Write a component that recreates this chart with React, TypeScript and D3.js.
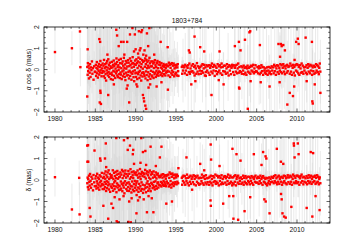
import React, { useEffect, useRef } from "react";
import * as d3 from "d3";

// Source position time series, 1803+784: RA (α cos δ) and Dec offsets in mas

const sourceName = "1803+784";
const xTickYears = [1980, 1985, 1990, 1995, 2000, 2005, 2010];
const yTickValues = [-2, -1, 0, 1, 2];

// session epochs: year, then fraction of year in hundredths (one line per year)
const sessionEpochs = `
1984 01 05 08 12 17 21 26 30 35 41 47 52 58 64 71 78 86 93
1985 02 06 10 14 19 23 27 31 36 40 45 49 54 58 63 67 72 77 81 86 91 96
1986 01 05 08 12 16 19 23 27 31 34 38 42 46 50 53 57 61 65 69 72 76 80 84 88 92 96
1987 02 05 09 13 17 20 24 28 32 35 39 43 47 51 54 58 62 66 70 73 77 81 85 89 93 97
1988 01 04 08 12 16 20 23 27 31 35 39 42 46 50 54 58 61 65 69 73 77 81 84 88 92 96
1989 02 06 10 13 17 21 25 29 32 36 40 44 48 51 55 59 63 67 70 74 78 82 86 89 93 97
1990 01 05 09 12 16 20 24 28 31 35 39 43 47 50 54 58 62 66 69 73 77 81 85 88 92 96
1991 03 07 10 14 18 22 26 29 33 37 41 45 48 52 56 60 64 67 71 75 79 83 86 90 94 98
1992 02 06 10 14 18 22 26 30 34 38 42 46 50 54 58 62 66 70 74 78 82 86 90 95
1993 01 05 10 14 19 23 28 32 37 41 46 50 55 59 64 68 73 77 82 86 91 95
1994 02 06 12 17 21 27 33 37 42 48 52 56 63 67 71 78 82 86 92 97
1995 02 07 12 17 22 27 72 77 82 87 93
1996 02 09 15 23 30 37 44 51 59 66 72 80 87 94
1997 04 10 18 25 31 38 46 52 60 67 73 81 88 95
1998 01 08 16 22 29 37 43 50 58 65 71 79 86 93
1999 03 11 17 24 32 38 45 53 59 66 74 80 88 94
2000 02 09 16 23 31 37 44 52 58 65 73 79 86 95
2001 05 11 18 26 32 39 46 53 61 67 74 82 88 96
2002 01 08 15 23 29 36 43 51 57 64 71 78 86 92
2003 04 10 17 24 32 39 45 52 60 66 73 81 87 94
2004 02 09 16 22 30 37 44 51 58 65 72 79 86 93
2005 03 10 18 25 31 38 46 52 59 67 73 80 88 95
2006 02 08 15 22 29 36 44 50 57 64 72 79 86 93
2007 04 11 17 24 32 38 45 53 59 66 74 81 87 94
2008 01 09 15 23 30 37 43 51 58 64 72 79 85 93
2009 03 10 17 25 31 38 46 52 60 67 73 80 88 95
2010 02 08 16 22 29 36 44 51 57 65 71 79 86 92
2011 04 11 18 24 32 39 45 53 60 66 74 81 87 94
2012 02 09 15 23 30 37 43 50 57 63 70 76 82 89
`;

// α cos δ offsets, hundredths of mas (same order as sessionEpochs)
const raOffsets = `
12 -25 30 -8 18 -42 5 -15 25 -35 10 -3 38 -20 6 -48 15 -10
-12 22 -30 8 35 -18 2 -38 15 -6 26 -24 12 -14 40 -4 20 -32 5 -16 28 -8
18 -32 45 -10 6 -40 25 -22 12 -52 30 -4 40 -16 9 -28 48 -12 22 -35 2 32 -20 15 -45 8
-15 36 -26 10 -48 22 -6 42 -30 16 -10 28 -40 4 25 -18 52 -8 35 -28 12 -36 20 -2 45 -22
10 -40 30 -14 50 -24 6 -45 28 -9 38 -32 18 -4 55 -20 8 -35 24 -50 40 -15 4 32 -28 14
-26 44 -11 32 -42 16 -6 52 -30 22 -14 40 -48 9 28 -20 58 -9 30 -36 13 -55 25 -4 42 -18
22 -35 48 -15 30 -45 7 38 -22 56 -11 18 -40 33 -6 50 -28 11 -52 25 -16 44 -33 4 36 -13
-20 40 -30 13 52 -42 25 -9 45 -26 6 35 -50 18 -13 42 -33 9 55 -22 29 -44 15 -6 38 -28
15 -33 38 -11 28 -40 7 33 -22 44 -15 20 -35 11 -6 30 -26 40 -16 6 -29 23 -9 35
-13 22 -26 9 30 -18 4 -31 16 -7 26 -22 13 -4 20 -28 7 -15 24 -11 18 -6
15 -28 32 -10 22 -35 8 25 -18 30 -5 -25 18 -12 28 -32 5 20 -22 10
-15 22 -28 10 25 -8 12 -20 18 -5 15
10 -18 22 -5 15 -25 8 20 -12 28 -20 5 -10 18
-8 25 -15 12 -28 18 5 -20 30 -10 15 -22 8 -5
12 -20 18 -8 25 -15 5 22 -28 10 -12 20 -5 15
-15 20 -25 8 18 -10 28 -18 12 -5 22 -30 15 -8
8 -22 25 -12 15 -5 20 -18 10 28 -25 12 -8 18
-10 18 -20 5 25 -15 12 -28 20 -5 15 -22 8 22
15 -12 20 -25 8 18 -10 22 -18 5 28 -15 12 -8
-12 15 -20 10 -5 18 -22 8 -15 12 -25 5 18 -10
8 -15 12 -20 18 -5 15 -10 22 -18 5 -12 20 -8
-10 12 -18 5 15 -22 8 -15 20 -8 12 -25 10 -5
-15 5 -20 -8 10 -25 -5 12 -18 -10 8 -22 15 -5
10 -18 22 -8 15 -25 5 20 -12 18 -20 8 -5 25
-12 20 -18 8 25 -10 15 -22 5 18 -15 22 -8 12
15 -20 28 -10 18 -25 8 22 -15 12 -28 20 -5 25
-10 22 -18 12 -25 20 5 -15 28 -12 18 -20 10 -5
12 -15 20 -22 8 25 -10 15 -18 22 -5 18 -25 10
-8 18 -20 12 -15 25 -5 20 -12 15 -22 8 28 -10
`;

// δ offsets, hundredths of mas
const decOffsets = `
-15 11 -33 4 -44 20 -9 -26 28 -4 -36 15 -20 6 -48 23 -11 -29
7 -28 18 -40 -6 29 -16 -35 11 -22 4 -45 22 -11 -30 16 -4 -25 33 -18 -42 9
-22 15 -42 30 -9 -33 6 40 -18 -51 22 -6 -38 13 35 -25 -11 45 -44 4 -20 28 -55 11 -30 18
22 -36 11 -20 45 -50 4 -28 33 -11 -42 18 -4 38 -30 9 -57 25 -16 42 -35 6 -23 29 -47 13
-29 16 -45 35 -7 -40 25 -18 47 -52 9 -25 40 -13 -35 20 -62 30 -6 44 -22 11 -42 28 -15 -50
18 -33 42 -11 -51 29 -20 6 -40 50 -28 13 -58 36 -7 -30 22 -45 9 40 -18 -52 33 -4 -36 25
-25 35 -15 -47 22 -6 44 -35 11 -55 30 -18 -40 16 51 -29 4 -50 28 -11 38 -42 18 -22 -60 33
28 -44 15 -25 47 -36 7 -57 30 -16 40 -33 -6 22 -50 35 -20 11 -40 44 -28 4 -52 25 -13 36
-18 29 -38 11 -25 40 -9 -33 22 -44 15 -6 35 -28 7 -40 25 -16 30 -11 -35 18 -22 13
14 -25 20 -9 -30 25 -14 11 -22 27 -4 -27 16 -11 22 -20 6 -29 18 -7 23 -16
-15 25 -30 10 35 -22 -5 28 -35 15 -20 30 -12 22 -28 8 -18 25 -10 20
12 -20 25 -8 18 -15 10 -22 15 -5 20
-12 18 -22 8 -5 25 -15 10 -25 15 -8 20 -18 5
15 -10 22 -20 5 18 -25 12 -8 20 -15 8 -22 10
-18 10 -5 25 -15 12 -22 18 5 -12 22 -20 8 -10
10 -22 15 -8 20 -15 5 -25 18 -10 12 -5 25 -18
-8 20 -15 12 -25 18 -5 10 -20 22 -12 5 -18 15
18 -12 8 -22 15 -5 25 -18 10 -15 20 -8 12 -25
-15 12 -20 18 -8 22 -25 5 15 -12 20 -18 8 -5
12 -18 5 -12 20 -22 10 -8 18 -15 8 -20 15 -5
-10 15 -20 8 -5 18 -15 12 -22 5 15 -8 20 -12
8 -12 15 -18 10 -5 20 -15 5 12 -22 18 -8 10
-12 5 -18 10 -25 8 -15 -5 12 -20 5 -10 15 -8
10 -15 18 -5 22 -12 8 -20 15 -8 20 -18 5 12
-8 15 -22 10 -12 20 -5 18 -15 8 -20 12 22 -10
12 -18 20 -8 15 -22 5 25 -12 18 -15 10 -5 20
-15 20 -10 15 -22 8 18 -12 25 -5 12 -20 15 -8
8 -12 18 -20 10 -5 22 -15 12 -8 20 -18 5 15
-10 15 -5 20 -18 10 -12 22 -8 15 -20 5 12 -15
`;

// formal errors, hundredths of mas
const sessionSigmas = `
250 40 300 60 180 35 400 80 220 50 350 30 150 260 45 320 70 200
60 280 40 350 90 220 30 400 150 50 300 70 250 35 180 420 55 260 40 330 80 200
300 50 380 120 250 40 450 90 200 60 350 30 280 150 400 70 230 45 320 100 500 55 260 80 380 40
80 350 45 280 150 420 60 230 90 380 35 300 180 450 70 260 50 340 120 400 40 290 85 360 160 220
400 70 300 50 380 150 260 45 420 90 330 60 250 180 480 40 300 110 360 75 280 55 420 130 240 90
60 380 120 290 50 420 170 250 80 360 40 310 200 450 65 280 140 400 55 330 95 260 480 70 350 110
350 90 420 60 280 180 390 50 310 130 450 75 260 40 370 200 300 85 420 55 340 150 280 65 400 100
100 380 70 300 160 440 55 270 120 400 80 320 45 360 210 290 60 420 140 250 90 380 50 340 170 300
300 60 250 140 380 50 220 90 330 40 280 160 200 70 350 45 240 120 300 55 260 80 200 40
40 180 30 250 60 120 35 200 45 90 280 30 150 50 220 35 100 40 170 30 80 200
30 120 25 80 200 35 60 150 28 45 100 30 180 40 70 25 130 35 60 90
30 60 25 120 35 40 30 80 25 150 30
20 15 150 25 18 30 12 220 20 15 25 80 18 22
15 25 18 300 20 12 22 16 120 18 25 15 20 60
22 15 20 18 180 25 12 20 15 28 250 18 20 15
18 20 100 15 25 20 18 12 22 280 15 20 18 25
15 22 18 20 12 200 18 25 15 20 18 22 90 15
20 15 25 18 22 15 160 20 18 25 12 20 15 22
18 22 15 20 250 18 12 22 20 15 300 18 22 15
20 15 120 18 25 20 350 15 18 22 20 15 200 18
15 20 18 250 12 20 22 15 18 300 20 15 18 22
20 18 15 22 180 15 20 18 25 12 20 280 15 18
25 30 20 200 28 35 22 150 30 25 20 320 28 22
18 15 20 250 18 22 15 300 20 18 15 22 180 20
15 20 350 18 22 15 200 20 18 280 15 22 18 400
20 18 15 300 22 18 15 20 250 18 22 15 350 20
18 22 15 20 280 18 15 22 20 400 18 15 22 250
15 20 18 300 22 15 18 20 350 15 22 18 20 200
20 15 22 18 250 20 15 18 300 22 15 18 20 150
`;

// [epoch, offset (mas), error (mas)] for the sessions away from the band
const raOutliers: [number, number, number][] = [
  [1980.0, 0.82, 1.0], [1982.1, 1.0, 0.8], [1983.1, 1.79, 1.5], [1983.15, 0.11, 0.9],
  [1984.0, -1.27, 2], [1984.05, 0.95, 1.5], [1985.5, 1.43, 2], [1985.6, 1.3, 1.8],
  [1985.62, -1.0, 2], [1985.55, -1.55, 2.5], [1985.7, -1.62, 2], [1985.65, -1.1, 1.5],
  [1986.6, -1.2, 2], [1987.6, 1.87, 3], [1987.7, 1.6, 2], [1987.9, 1.1, 2],
  [1988.2, 1.3, 2], [1988.5, 1.3, 3], [1988.9, -0.9, 2], [1988.95, 1.3, 2],
  [1989.3, 1.65, 3], [1989.2, -1.55, 2], [1989.6, 1.95, 3], [1989.9, 1.65, 2],
  [1990.1, -0.7, 1.5], [1990.4, 1.8, 2.5], [1990.5, 0.9, 2], [1990.7, 1.76, 3],
  [1990.8, 1.85, 2], [1990.9, -1.2, 2], [1991.0, -1.35, 2], [1991.2, -1.7, 3],
  [1991.05, -1.5, 2], [1991.3, -1.85, 3], [1991.4, 1.7, 2], [1991.55, 1.1, 2],
  [1991.6, -0.85, 2], [1991.7, 1.95, 3], [1992.6, -0.8, 2], [1993.1, 1.3, 2],
  [1993.2, -0.6, 1.5], [1993.97, 1.05, 1.5], [1994.0, -0.95, 1.5], [1995.3, -0.3, 1],
  [1986.5, 0.7, 2], [1987.3, -0.7, 2], [1988.6, 0.7, 2], [1989.0, -0.75, 2],
  [1989.8, 0.85, 2], [1990.0, 0.95, 2.5], [1990.2, -0.8, 2], [1990.3, 0.75, 2],
  [1990.6, 1.0, 2], [1990.95, 0.7, 2], [1991.1, 0.9, 2], [1991.3, 0.65, 2],
  [1991.8, -0.7, 2], [1992.3, 0.7, 2],
  [1996.6, 0.9, 1.5], [1996.7, 0.8, 1.2], [1997.3, 1.55, 2], [1996.9, -0.7, 1.5],
  [1997.4, -0.55, 1], [1998.0, 1.05, 1.5], [1998.5, 0.85, 1.2], [1998.7, -0.3, 1],
  [1999.4, -1.2, 2], [2000.4, 0.85, 1.5], [2000.3, -0.5, 1], [2000.9, -0.7, 1.5],
  [2002.3, 1.1, 2], [2002.8, 1.3, 2], [2002.82, -0.85, 2], [2002.86, -0.9, 2],
  [2003.0, 0.9, 1.5], [2003.55, 1.4, 2], [2003.9, -1.85, 3], [2004.1, 1.75, 3],
  [2004.2, 1.8, 2.5], [2004.25, -0.55, 1], [2005.4, 1.15, 2], [2005.5, -0.6, 1],
  [2006.6, -0.8, 1.5], [2007.7, 1.2, 2], [2007.9, 0.6, 1], [2007.85, -0.6, 1],
  [2008.0, 1.2, 2], [2008.1, 1.1, 2], [2008.3, 1.15, 2], [2008.5, 0.9, 1.5],
  [2008.8, -1.65, 3], [2009.1, -1.1, 2], [2009.5, -1.25, 2], [2009.7, 0.45, 1],
  [2009.9, 1.3, 2], [2010.1, 1.45, 2.5], [2010.2, 1.2, 2], [2009.65, -0.8, 1.5],
  [2011.07, 1.5, 2.5], [2011.2, -0.55, 1], [2011.85, 1.3, 2], [2011.9, -1.5, 2.5],
  [2011.95, -1.6, 2.5], [2012.2, -0.7, 1.5], [2012.9, -1.1, 2],
];

const decOutliers: [number, number, number][] = [
  [1980.0, 0.13, 0.9], [1982.1, -1.37, 1.2], [1983.0, 0.1, 0.8], [1983.05, -1.6, 1.5],
  [1984.0, 1.6, 2], [1984.1, 1.62, 2], [1984.02, 0.85, 1.5], [1984.12, 0.85, 1.5],
  [1984.3, -1.3, 2], [1984.4, -1.7, 2.5], [1984.9, 1.37, 2], [1985.6, 1.0, 1.5],
  [1985.65, 0.9, 1.5], [1986.2, 1.0, 2], [1986.3, 1.7, 2.5], [1986.35, 0.6, 1],
  [1986.0, -1.2, 2], [1986.6, -1.8, 3], [1987.0, -1.1, 2], [1987.2, -1.3, 2],
  [1987.6, 1.95, 3], [1987.8, -1.97, 3], [1987.65, -1.92, 3], [1988.55, 1.85, 3],
  [1989.0, 1.95, 3], [1989.02, 1.4, 2], [1989.3, 1.6, 2], [1989.7, 1.4, 2],
  [1989.65, 1.2, 2], [1989.1, -1.95, 3], [1989.4, -1.97, 3], [1990.1, -1.55, 2],
  [1990.12, -0.7, 1.5], [1990.7, 1.95, 3], [1990.9, 1.3, 2], [1991.2, 1.35, 2],
  [1991.4, -1.5, 2], [1991.85, 1.55, 2.5], [1992.2, -1.5, 2], [1993.0, 1.05, 2],
  [1993.2, 1.55, 2.5], [1993.8, -1.1, 2], [1994.5, -1.0, 2], [1995.3, 0.55, 1],
  [1987.4, -0.8, 2], [1988.0, -0.9, 2], [1988.5, -0.75, 2], [1989.2, -1.0, 2],
  [1989.5, -0.85, 2], [1989.8, 0.75, 2], [1990.3, -0.95, 2], [1990.5, -0.8, 2],
  [1990.6, 0.8, 2], [1991.0, -0.9, 2], [1991.3, 0.7, 2], [1991.6, -0.75, 2],
  [1992.0, -0.85, 2], [1992.5, 0.65, 2],
  [1996.3, 1.05, 1.5], [1997.0, -0.45, 1], [1998.0, 0.75, 1], [1998.5, 0.45, 1],
  [1999.3, 1.65, 2.5], [1999.35, 0.95, 1.5], [1999.28, -0.95, 1.5], [1999.32, -1.2, 2],
  [2000.4, 0.65, 1], [2000.85, -1.1, 1.5], [2001.6, -0.75, 1], [2002.0, 1.45, 2],
  [2002.1, -0.75, 1], [2002.12, -1.8, 3], [2002.7, -1.85, 3], [2002.5, 1.2, 2],
  [2003.0, 0.9, 1.5], [2003.5, -1.45, 2], [2004.2, -0.8, 1], [2004.65, 1.2, 2],
  [2005.6, 0.7, 1], [2005.8, 1.3, 2], [2006.1, 1.1, 1.5], [2006.2, 1.0, 1.5],
  [2005.95, -0.9, 1.5], [2006.12, -1.0, 1.5], [2006.6, -1.55, 2.5], [2007.5, 1.45, 2],
  [2008.0, 0.85, 1.5], [2008.3, 0.75, 1.5], [2008.02, -0.65, 1], [2008.1, -0.9, 1.5],
  [2008.2, -1.55, 2.5], [2008.4, -1.7, 2.5], [2008.6, -1.75, 2.5], [2009.3, -1.25, 2],
  [2009.6, 1.7, 2.5], [2009.62, 1.6, 2], [2009.7, 1.05, 1.5], [2010.1, 1.7, 2.5],
  [2010.2, 1.2, 2], [2011.2, -1.3, 2], [2011.7, 1.3, 2], [2012.0, 1.25, 2],
  [2011.9, -1.7, 2.5], [2012.3, -0.75, 1], [2012.8, -1.4, 2],
];

interface Obs {
  epoch: number;
  value: number;
  sigma: number;
}

const parseRows = (text: string) =>
  text
    .trim()
    .split("\n")
    .map((line) => line.trim().split(/\s+/).map(Number));

const buildSeries = (valueText: string, outliers: [number, number, number][]): Obs[] => {
  const epochRows = parseRows(sessionEpochs);
  const valueRows = parseRows(valueText);
  const sigmaRows = parseRows(sessionSigmas);
  const out: Obs[] = [];
  epochRows.forEach((row, i) => {
    const year = row[0];
    const fracs = row.slice(1);
    const vals = valueRows[i] || [];
    const sigs = sigmaRows[i] || [];
    const n = Math.min(fracs.length, vals.length, sigs.length);
    for (let j = 0; j < n; j++) {
      out.push({ epoch: year + fracs[j] / 100, value: vals[j] / 100, sigma: sigs[j] / 100 });
    }
  });
  outliers.forEach(([epoch, value, sigma]) => out.push({ epoch, value, sigma }));
  return out;
};

const WIDTH = 351;
const HEIGHT = 248;
const plotLeft = 44;
const plotRight = 330;
const font = "'Liberation Sans', Arial, Helvetica, sans-serif";
const fontSize = 6.8;

const App: React.FC = () => {
  const svgRef = useRef<SVGSVGElement>(null);

  useEffect(() => {
    if (!svgRef.current) return;
    const svg = d3.select(svgRef.current);
    svg.selectAll("*").remove();

    const x = d3.scaleLinear().domain([1978.64, 2014.09]).range([plotLeft, plotRight]);

    const drawPanel = (
      points: Obs[],
      top: number,
      bottom: number,
      yLabel: string,
      clipId: string
    ) => {
      const y = d3.scaleLinear().domain([-2, 2]).range([bottom, top]);

      svg
        .append("defs")
        .append("clipPath")
        .attr("id", clipId)
        .append("rect")
        .attr("x", plotLeft)
        .attr("y", top)
        .attr("width", plotRight - plotLeft)
        .attr("height", bottom - top);

      const plot = svg.append("g").attr("clip-path", `url(#${clipId})`);

      // error bars
      plot
        .selectAll("line.err")
        .data(points)
        .join("line")
        .attr("class", "err")
        .attr("x1", (d) => x(d.epoch))
        .attr("x2", (d) => x(d.epoch))
        .attr("y1", (d) => y(d.value - d.sigma))
        .attr("y2", (d) => y(d.value + d.sigma))
        .attr("stroke", "#d6d6d6")
        .attr("stroke-width", 0.5);

      // points
      const s = 2.4;
      plot
        .selectAll("rect.pt")
        .data(points)
        .join("rect")
        .attr("class", "pt")
        .attr("x", (d) => x(d.epoch) - s / 2)
        .attr("y", (d) => y(d.value) - s / 2)
        .attr("width", s)
        .attr("height", s)
        .attr("fill", "#ff0000");

      // frame
      svg
        .append("rect")
        .attr("x", plotLeft)
        .attr("y", top)
        .attr("width", plotRight - plotLeft)
        .attr("height", bottom - top)
        .attr("fill", "none")
        .attr("stroke", "#000")
        .attr("stroke-width", 0.8);

      const ticks = svg.append("g").attr("stroke", "#000").attr("stroke-width", 0.6);

      // x ticks (bottom and top, inward)
      d3.range(1979, 2015).forEach((yr) => {
        const len = yr % 5 === 0 ? 3.5 : 1.8;
        const px = x(yr);
        if (px < plotLeft || px > plotRight) return;
        ticks.append("line").attr("x1", px).attr("x2", px).attr("y1", bottom).attr("y2", bottom - len);
        ticks.append("line").attr("x1", px).attr("x2", px).attr("y1", top).attr("y2", top + len);
      });

      // y ticks (left and right, inward)
      d3.range(-2, 2.001, 0.25).forEach((v) => {
        const major = Math.abs(v - Math.round(v)) < 1e-6;
        const len = major ? 3.5 : 1.8;
        const py = y(v);
        ticks.append("line").attr("x1", plotLeft).attr("x2", plotLeft + len).attr("y1", py).attr("y2", py);
        ticks.append("line").attr("x1", plotRight).attr("x2", plotRight - len).attr("y1", py).attr("y2", py);
      });

      // x tick labels
      svg
        .append("g")
        .selectAll("text")
        .data(xTickYears)
        .join("text")
        .attr("x", (d) => x(d))
        .attr("y", bottom + 9.2)
        .attr("text-anchor", "middle")
        .style("font-family", font)
        .style("font-size", `${fontSize}px`)
        .attr("fill", "#111")
        .text((d) => String(d));

      // y tick labels (rotated)
      svg
        .append("g")
        .selectAll("text")
        .data(yTickValues)
        .join("text")
        .attr("transform", (d) => `translate(38.6, ${y(d)}) rotate(-90)`)
        .attr("text-anchor", "middle")
        .style("font-family", font)
        .style("font-size", `${fontSize}px`)
        .attr("fill", "#111")
        .text((d) => (d < 0 ? `\u2212${Math.abs(d)}` : String(d)));

      // y axis title
      svg
        .append("text")
        .attr("transform", `translate(30.5, ${(top + bottom) / 2}) rotate(-90)`)
        .attr("text-anchor", "middle")
        .style("font-family", font)
        .style("font-size", `${fontSize}px`)
        .attr("fill", "#111")
        .text(yLabel);
    };

    drawPanel(buildSeries(raOffsets, raOutliers), 27, 112, "α cos δ (mas)", "clip-ra");
    drawPanel(buildSeries(decOffsets, decOutliers), 137, 223, "δ (mas)", "clip-dec");

    svg
      .append("text")
      .attr("x", (plotLeft + plotRight) / 2)
      .attr("y", 23.3)
      .attr("text-anchor", "middle")
      .style("font-family", font)
      .style("font-size", `${fontSize}px`)
      .attr("fill", "#111")
      .text(sourceName);
  }, []);

  return (
    <svg
      ref={svgRef}
      width={WIDTH}
      height={HEIGHT}
      style={{ position: "absolute", left: 0, top: 0, background: "#fff" }}
    />
  );
};

export default App;
